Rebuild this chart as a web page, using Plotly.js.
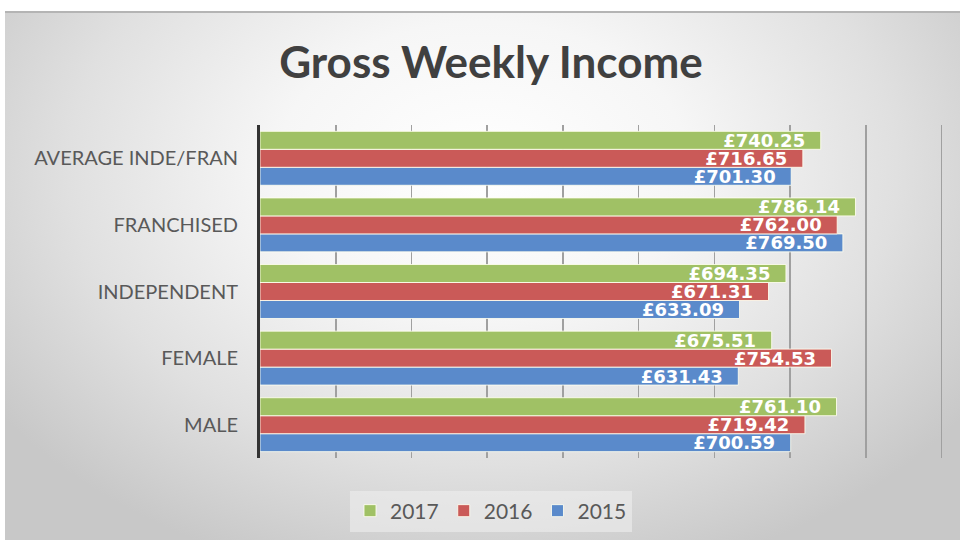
<!DOCTYPE html>
<html>
<head>
<meta charset="utf-8">
<script src="https://cdn.plot.ly/plotly-3.0.1.min.js"></script>
<style>
  html, body { margin: 0; padding: 0; background: #ffffff; }
  #chart {
    width: 960px; height: 540px;
    background-color: #ffffff;
    background-image:
      linear-gradient(#b4b4b4, #b4b4b4),
      radial-gradient(ellipse 62% 80% at 50% 30%, #ffffff 0%, #f6f6f6 35%, #e0e0e0 70%, #c8c8c8 100%);
    background-repeat: no-repeat, no-repeat;
    background-position: 5px 11px, 5px 11px;
    background-size: 955px 2px, 955px 529px;
  }
</style>
</head>
<body>
<div id="chart"></div>
<script>
const categories = ['MALE', 'FEMALE', 'INDEPENDENT', 'FRANCHISED', 'AVERAGE INDE/FRAN'];
const seriesNames = ['2015', '2016', '2017'];
const values2015 = [700.59, 631.43, 633.09, 769.50, 701.30];
const values2016 = [719.42, 754.53, 671.31, 762.00, 716.65];
const values2017 = [761.10, 675.51, 694.35, 786.14, 740.25];
const seriesColors = ['#5A8ACB', '#CA5A58', '#A0C165'];

const allValues = [values2015, values2016, values2017];
const traces = allValues.map((vals, i) => ({
  type: 'bar',
  orientation: 'h',
  name: seriesNames[i],
  y: categories,
  x: vals,
  marker: { color: seriesColors[i], line: { color: 'rgba(255,255,240,0.85)', width: 1 } },
  texttemplate: '£%{x:.2f}\u00a0\u00a0',
  textposition: 'inside',
  insidetextanchor: 'end',
  constraintext: 'none',
  cliponaxis: false,
  textfont: { family: 'DejaVu Sans', size: 18, color: '#ffffff', weight: 'bold' },
  hoverinfo: 'skip'
}));

const layout = {
  width: 960, height: 540,
  paper_bgcolor: 'rgba(0,0,0,0)',
  plot_bgcolor: 'rgba(0,0,0,0)',
  margin: { l: 260, r: 16, t: 125, b: 82 },
  barmode: 'group',
  bargap: 0.19,
  bargroupgap: 0,
  showlegend: true,
  title: {
    text: '<b>Gross Weekly Income</b>',
    font: { family: 'Lato', size: 44, color: '#404040' },
    x: 491 / 960, xanchor: 'center',
    y: 1 - 63 / 540, yanchor: 'middle'
  },
  xaxis: {
    range: [0, 903],
    dtick: 100,
    tick0: 0,
    showticklabels: false,
    showgrid: true,
    gridcolor: '#a0a0a0',
    gridwidth: 1.5,
    zeroline: false,
    showline: false,
    ticks: ''
  },
  yaxis: {
    type: 'category',
    showline: true,
    linecolor: '#333333',
    linewidth: 3,
    showgrid: false,
    zeroline: false,
    ticks: '',
    ticklabelstandoff: 15,
    tickfont: { family: 'Lato', size: 20, color: '#595959' }
  },
  legend: {
    orientation: 'h',
    traceorder: 'reversed',
    xref: 'container',
    yref: 'container',
    x: 491 / 960, xanchor: 'center',
    y: 1 - 511 / 540, yanchor: 'middle',
    bgcolor: 'rgba(238,238,238,0.6)',
    font: { family: 'Lato', size: 21, color: '#595959' },
    itemwidth: 30
  }
};

Plotly.newPlot('chart', traces, layout, { displayModeBar: false, staticPlot: true });
</script>
</body>
</html>
